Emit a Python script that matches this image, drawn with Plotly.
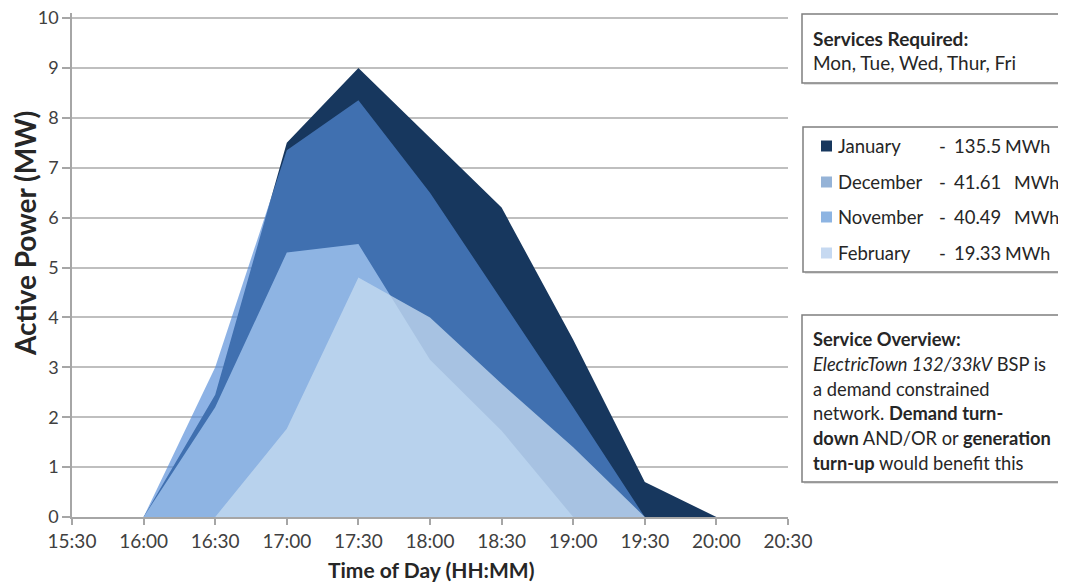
import plotly.graph_objects as go

# ---------------- data ----------------
day = "2024-01-08 "
jan_times = ["16:00", "16:30", "17:00", "17:30", "18:00", "18:30", "19:00", "19:30", "20:00"]
jan_mw = [0, 2.45, 7.5, 9.0, 7.6, 6.2, 3.55, 0.7, 0]

dec_times = ["16:00", "16:30", "17:00", "17:30", "18:00", "18:30", "19:00", "19:30"]
dec_mw = [0, 3.0, 7.35, 8.35, 6.5, 4.35, 2.2, 0]

nov_times = ["16:00", "16:30", "17:00", "17:30", "18:00", "18:30", "19:00"]
nov_mw = [0, 2.2, 5.3, 5.47, 3.15, 1.73, 0]

feb_times = ["16:30", "17:00", "17:30", "18:00", "18:30", "19:00", "19:30"]
feb_mw = [0, 1.77, 4.8, 4.0, 2.67, 1.4, 0]

x_ticks = ["15:30", "16:00", "16:30", "17:00", "17:30", "18:00", "18:30",
           "19:00", "19:30", "20:00", "20:30"]
y_ticks = [0, 1, 2, 3, 4, 5, 6, 7, 8, 9, 10]

legend_names = ["January", "December", "November", "February"]
legend_values = ["135.5", "41.61", "40.49", "19.33"]
legend_colors = ["#17375E", "#95B3D7", "#8DB4E2", "#C6D9F1"]

# ---------------- figure ----------------
FONT = "Lato"
fig = go.Figure()

series = [
    ("January", jan_times, jan_mw, "rgb(23,55,94)"),
    ("December", dec_times, dec_mw, "rgba(85,140,216,0.67)"),
    ("November", nov_times, nov_mw, "rgba(175,209,249,0.70)"),
    ("February", feb_times, feb_mw, "rgba(196,218,240,0.78)"),
]
for name, t, v, col in series:
    fig.add_trace(go.Scatter(
        x=[day + s for s in t], y=v, name=name, mode="lines",
        fill="tozeroy", fillcolor=col, line=dict(width=0, color=col),
        hoverinfo="x+y+name", showlegend=False,
    ))

# page offset (body margin) and plot box in screenshot pixels
OFF = 8
W_FIG, H_FIG = 1066 - OFF, 585 - OFF
YMAX = 10.1
L, R, T, B = 72, 788, 13, 517   # value 10 lands at y~18


def px(x):
    return (x - L) / (R - L)


def py(y):
    return (B - y) / (B - T)


shapes = []
annotations = []


def box(x0, y0, x1, y1):
    shapes.append(dict(type="rect", xref="paper", yref="paper",
                       x0=px(x0 + 2), y0=py(y1 + 2), x1=px(x1 + 2), y1=py(y0 + 2),
                       line=dict(width=0), fillcolor="rgba(0,0,0,0.12)", layer="above"))
    shapes.append(dict(type="rect", xref="paper", yref="paper",
                       x0=px(x0), y0=py(y1), x1=px(x1), y1=py(y0),
                       line=dict(color="#7F7F7F", width=1.5), fillcolor="white", layer="above"))


def text(x, y, s, size=18.5, color="#262626", anchor="left"):
    annotations.append(dict(xref="paper", yref="paper", x=px(x), y=py(y), text=s,
                            showarrow=False, xanchor=anchor, yanchor="middle",
                            font=dict(family=FONT, size=size, color=color)))


# box 1
box(802, 14, 1070, 83)
text(811, 38, "<b>Services Required:</b>", size=19)
text(811, 63, "Mon, Tue, Wed, Thur, Fri", size=19)

# box 2 (legend)
box(803, 127, 1070, 272)
ys = [146, 182, 217, 253]
val_x = [952, 952, 952, 952]
mwh_x = [1003, 1012, 1012, 1003]
for i in range(4):
    y = ys[i]
    shapes.append(dict(type="rect", xref="paper", yref="paper",
                       x0=px(821), x1=px(832), y0=py(y + 5.5), y1=py(y - 5.5),
                       line=dict(width=0), fillcolor=legend_colors[i], layer="above"))
    text(836, y, legend_names[i], size=18.5)
    text(937, y, "-", size=18.5)
    text(val_x[i], y, legend_values[i], size=18.5)
    text(mwh_x[i], y, "MWh", size=18)

# box 3
box(802, 315, 1070, 482)
lines3 = [
    "<b>Service Overview:</b>",
    "<i>ElectricTown 132/33kV</i> BSP is",
    "a demand constrained",
    "network. <b>Demand turn-</b>",
    "<b>down</b> AND/OR or <b>generation</b>",
    "<b>turn-up</b> would benefit this",
]
for j, s in enumerate(lines3):
    text(811, 339 + j * 24.8, s, size=18.3)

# axis titles as annotations (placed to match reference)
text(431, 569, "<b>Time of Day (HH:MM)</b>", size=21, anchor="center")
annotations.append(dict(xref="paper", yref="paper", x=px(25), y=py(234),
                        text="<b>Active Power (MW)</b>", textangle=-90, showarrow=False,
                        xanchor="center", yanchor="middle",
                        font=dict(family=FONT, size=28, color="#262626")))

fig.update_layout(
    width=W_FIG, height=H_FIG,
    margin=dict(l=L - OFF, r=W_FIG - (R - OFF), t=T - OFF, b=H_FIG - (B - OFF), autoexpand=False),
    paper_bgcolor="white", plot_bgcolor="white",
    font=dict(family=FONT, color="#404040"),
    shapes=shapes, annotations=annotations,
    xaxis=dict(
        type="date", automargin=False,
        range=[day + "15:30", day + "20:30"],
        tickmode="array",
        tickvals=[day + s for s in x_ticks],
        ticktext=x_ticks,
        showgrid=False, zeroline=False,
        showline=True, linecolor="#A6A6A6", linewidth=1.5,
        ticks="outside", ticklen=6, tickcolor="#A6A6A6", tickwidth=1.5,
        tickfont=dict(family=FONT, size=19, color="#404040"),
        ticklabeloverflow="allow",
    ),
    yaxis=dict(
        range=[0, YMAX], automargin=False,
        tickmode="array", tickvals=y_ticks,
        showgrid=True, gridcolor="#BFBFBF", gridwidth=1.5,
        zeroline=False,
        showline=True, linecolor="#A6A6A6", linewidth=1.5,
        ticks="outside", ticklen=8, tickcolor="#A6A6A6", tickwidth=1.5,
        tickfont=dict(family=FONT, size=18, color="#404040"),
        ticklabeloverflow="allow",
    ),
)

fig.write_html("out.html")
